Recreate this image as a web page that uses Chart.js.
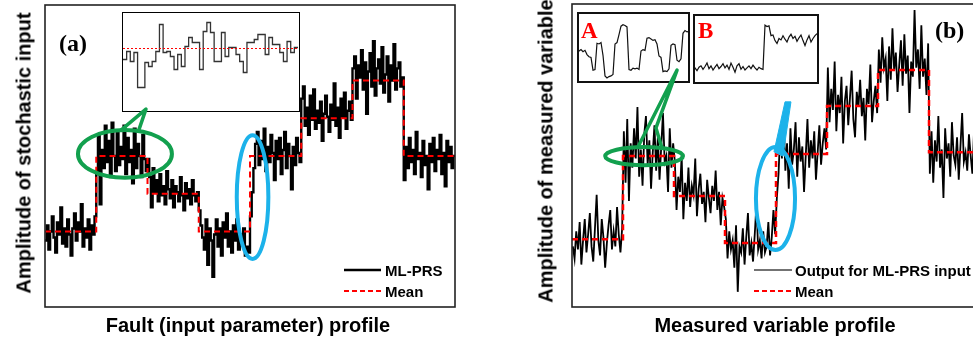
<!DOCTYPE html>
<html><head><meta charset="utf-8">
<script src="https://cdn.jsdelivr.net/npm/chart.js@4.4.0/dist/chart.umd.min.js"></script>
<style>
html,body{margin:0;padding:0;background:#fff;overflow:hidden;width:973px;height:341px;position:relative;}
canvas{position:absolute;display:block;}
.title{position:absolute;font-family:"Liberation Sans",Arial,sans-serif;font-weight:bold;font-size:20px;color:#000;white-space:nowrap;z-index:5;}
.inset{position:absolute;background:#fff;box-sizing:border-box;z-index:2;}
.inset canvas{position:absolute;left:0;top:0;}
.lbl{position:absolute;font-family:"Liberation Serif","Times New Roman",serif;font-weight:bold;z-index:5;white-space:nowrap;line-height:1;}
.leg{position:absolute;font-family:"Liberation Sans",Arial,sans-serif;font-weight:bold;font-size:15px;color:#000;white-space:nowrap;z-index:5;line-height:1;}
.legsvg{position:absolute;z-index:5;}
.ov{z-index:3;pointer-events:none;}
</style></head><body>

<canvas id="cA" width="480" height="341" style="left:0;top:0;z-index:1"></canvas>
<canvas id="cB" width="510" height="341" style="left:490px;top:0;z-index:1"></canvas>

<div class="inset" style="left:122px;top:12px;width:178px;height:100px;border:1.5px solid #000;"><canvas id="iA" width="175" height="97"></canvas></div>
<div class="inset" style="left:577px;top:12px;width:113px;height:71px;border:2px solid #111;"><canvas id="iBA" width="109" height="67"></canvas></div>
<div class="inset" style="left:693px;top:14px;width:126px;height:70px;border:2px solid #111;"><canvas id="iBB" width="122" height="66"></canvas></div>

<canvas id="oA" class="ov" width="480" height="341" style="left:0;top:0;"></canvas>
<canvas id="oB" class="ov" width="510" height="341" style="left:490px;top:0;"></canvas>

<div class="title" style="left:24px;top:153px;transform:translate(-50%,-50%) rotate(-90deg);">Amplitude of stochastic input</div>
<div class="title" style="left:248px;top:325px;transform:translate(-50%,-50%);">Fault (input parameter) profile</div>
<div class="title" style="left:546px;top:151px;transform:translate(-50%,-50%) rotate(-90deg);">Amplitude of measured variable</div>
<div class="title" style="left:775px;top:325px;transform:translate(-50%,-50%);">Measured variable profile</div>

<div class="lbl" style="left:59px;top:31px;font-size:24px;">(a)</div>
<div class="lbl" style="left:935px;top:18px;font-size:24px;">(b)</div>
<div class="lbl" style="left:581px;top:19px;font-size:23px;color:#f00;">A</div>
<div class="lbl" style="left:698px;top:19px;font-size:23px;color:#f00;">B</div>

<svg class="legsvg" style="left:344px;top:266px" width="37" height="8"><line x1="0" y1="4" x2="37" y2="4" stroke="#000" stroke-width="2.5"/></svg>
<svg class="legsvg" style="left:344px;top:287px" width="37" height="8"><line x1="0" y1="4" x2="37" y2="4" stroke="#f00" stroke-width="2" stroke-dasharray="5,3"/></svg>
<div class="leg" style="left:385px;top:263px;">ML-PRS</div>
<div class="leg" style="left:385px;top:284px;">Mean</div>

<svg class="legsvg" style="left:754px;top:266px" width="40" height="8"><line x1="0" y1="4" x2="38" y2="4" stroke="#444" stroke-width="1.5"/></svg>
<svg class="legsvg" style="left:754px;top:287px" width="37" height="8"><line x1="0" y1="4" x2="37" y2="4" stroke="#f00" stroke-width="2" stroke-dasharray="5,3"/></svg>
<div class="leg" style="left:795px;top:263px;">Output for ML-PRS input</div>
<div class="leg" style="left:795px;top:284px;">Mean</div>

<script>
// ---------------- DATA ----------------
// Panel (a): stochastic input (ML-PRS), 8 segments x 30 samples
const signalA = [
 2.2,2.7,1.9,2.5,3.0,2.3,1.8,2.8,2.4,3.3,2.1,2.6,2.0,2.9,2.4,1.7,2.6,3.1,2.2,2.8,2.5,3.4,2.0,2.6,2.3,2.9,1.9,2.7,2.4,3.0,
 4.4,5.7,3.4,5.2,4.6,6.0,4.8,5.5,4.3,6.1,5.0,4.5,5.8,4.7,5.3,4.9,6.0,4.4,5.6,4.8,5.2,4.1,5.9,4.6,5.4,5.0,4.3,5.7,4.9,4.5,
 4.9,4.3,3.3,4.6,3.8,4.2,3.5,4.4,3.7,4.0,3.4,4.5,3.9,3.6,4.2,3.3,4.0,3.8,3.5,4.3,3.7,3.2,4.1,3.6,3.9,3.4,4.2,3.7,3.5,3.8,
 3.2,2.7,2.3,1.9,2.9,1.4,2.6,2.2,1.0,2.4,2.9,2.0,2.6,1.7,2.8,2.3,3.1,2.0,2.5,1.8,2.7,2.2,2.9,1.9,2.4,2.1,2.6,1.7,2.0,1.8,
 3.0,3.8,4.6,5.4,5.8,4.7,5.5,4.9,5.9,4.5,5.3,4.8,5.7,5.1,4.2,5.5,4.9,5.6,4.4,5.2,5.8,4.6,5.4,5.0,3.9,5.3,4.7,5.6,5.1,4.8,
 6.9,7.3,6.0,6.6,5.7,7.0,6.2,7.2,5.9,6.5,6.1,6.8,5.5,6.4,7.0,6.3,5.8,6.7,6.2,7.4,6.0,6.6,5.6,6.9,6.3,7.1,5.9,6.5,6.8,6.2,
 7.9,8.3,6.9,8.0,7.6,8.5,7.2,8.1,6.4,7.8,8.4,7.3,8.8,7.0,7.9,8.2,7.4,8.6,7.1,7.7,8.3,6.8,8.0,7.5,8.7,7.2,7.9,8.1,7.3,7.6,
 4.2,5.3,4.6,5.6,4.8,5.2,4.4,5.8,4.9,5.1,4.3,5.5,4.7,5.0,3.9,5.4,4.8,5.6,4.5,5.2,4.9,5.7,4.4,5.1,4.0,5.5,4.8,5.3,4.6,5.0
];
const meanLevelsA = [2.5,5.0,3.75,2.5,5.0,6.25,7.5,5.0];
const segLenA = 30;

// Panel (a) inset: zoomed ML-PRS segment and its mean
const insetA = [5.2,6.0,5.0,5.9,2.4,2.4,4.9,4.5,5.0,6.0,8.7,5.9,6.0,5.5,4.2,5.7,4.5,6.5,7.4,6.9,6.9,4.2,8.0,8.9,7.9,5.0,5.0,7.9,5.5,6.4,6.4,5.7,5.0,3.9,6.9,6.9,7.2,7.7,7.7,5.7,7.4,6.7,6.7,5.9,5.0,7.0,5.9,6.4];
const insetAMean = 6.3;

// Panel (b): measured output, 8 segments x 30 samples
const signalB = [
 2.0,1.6,2.5,1.9,2.8,1.4,2.2,2.9,1.8,2.4,3.1,2.0,1.5,2.6,3.7,2.2,1.7,2.9,2.3,1.3,2.1,2.7,3.2,1.9,2.5,2.0,3.3,2.4,1.8,2.6,
 5.8,4.1,6.2,3.5,5.4,4.6,5.9,4.9,6.6,4.3,5.2,4.0,5.7,6.3,4.7,5.5,3.9,5.1,6.0,4.5,5.6,4.2,5.3,6.4,4.8,5.0,3.8,5.9,4.6,5.4,
 4.8,3.2,4.3,3.8,5.0,2.9,4.1,3.5,4.6,3.3,4.0,3.7,4.9,3.0,3.9,4.4,3.4,3.8,2.8,4.2,3.6,3.1,4.0,3.5,4.5,3.2,3.8,2.7,3.6,3.3,
 2.9,1.6,2.5,1.9,2.2,1.3,2.7,0.5,2.0,1.8,2.6,1.4,2.3,3.1,1.7,2.1,1.5,2.4,3.4,1.9,2.2,1.6,2.5,1.8,2.0,2.8,1.7,2.3,3.2,2.4,
 3.6,4.4,5.8,4.9,6.3,4.5,5.4,3.9,5.9,4.7,5.2,6.1,4.3,5.6,4.8,5.3,3.8,5.0,6.2,4.6,5.5,4.9,5.8,4.2,5.1,6.0,4.7,5.4,5.9,5.2,
 7.9,6.1,7.2,6.5,8.1,5.8,7.0,6.4,7.6,5.4,6.8,7.3,6.0,6.9,7.8,6.2,5.6,7.1,6.6,7.5,6.3,6.9,5.5,7.2,6.7,8.0,6.1,6.8,7.3,6.4,
 8.5,7.4,8.9,7.9,8.2,6.8,8.6,7.5,9.2,7.8,8.4,7.1,8.0,8.8,7.3,9.0,7.7,8.3,6.4,8.1,7.6,9.8,7.9,8.5,7.2,9.3,7.6,8.2,7.0,8.7,
 4.4,5.8,4.1,5.5,4.8,6.3,4.6,5.2,3.6,5.9,4.9,5.4,4.3,6.1,5.0,4.7,5.6,4.2,5.3,6.4,4.8,5.1,4.5,5.7,5.0,4.4,5.8,4.9,5.3,4.6
];
const meanLevelsB = [2.24,4.98,3.66,2.11,5.05,6.63,7.82,5.11];
const segLenB = 30;

// Panel (b) inset A (sample every 2 px) and inset B
const insetBA = [4.6,4.5,4.7,4.4,4.6,4.0,3.7,3.6,1.8,1.9,5.6,5.5,5.7,3.9,1.0,0.7,0.9,1.0,1.2,5.5,5.7,6.8,8.0,8.2,8.1,7.9,1.9,1.8,2.1,2.0,2.1,1.9,4.5,4.7,4.6,6.3,6.4,6.2,6.0,6.1,5.5,3.8,3.6,1.6,1.7,1.6,2.0,5.3,5.5,5.4,3.2,3.0,3.4,7.0,7.4,7.2,7.3];
const insetBB = [2.0,2.3,1.9,2.4,2.6,2.1,2.5,3.0,2.2,2.6,2.0,2.4,2.8,2.2,2.5,2.9,2.3,2.7,2.1,3.0,2.4,1.7,2.6,2.9,2.1,2.5,2.0,2.3,2.6,2.2,2.7,2.3,2.0,2.4,2.2,2.1,
 8.4,8.2,8.3,6.9,7.0,6.2,5.8,6.5,6.3,6.9,6.4,6.0,6.7,7.1,6.5,6.8,6.1,6.6,7.0,6.2,5.5,6.3,6.9,6.0,6.5,6.9,7.2,6.8];

// Annotations (data units of each panel)
const GREEN = 'rgb(18,160,78)', BLUE = 'rgb(28,178,234)';
const annoA = [
 {type:'ellipse', cx:46.8, cy:5.07, rx:27.5, ry:0.79, color:GREEN, width:4},
 {type:'path', pts:[[44.0,5.83],[59.1,6.55],[54.5,5.79]], color:GREEN, width:3.5},
 {type:'ellipse', cx:121.5, cy:3.64, rx:9.25, ry:2.05, color:BLUE, width:4}
];
const annoB = [
 {type:'ellipse', cx:42.4, cy:4.98, rx:22.9, ry:0.30, color:GREEN, width:4},
 {type:'path', pts:[[38.8,5.28],[61.8,7.82],[49.4,5.91],[52.9,5.25]], color:GREEN, width:3.5},
 {type:'ellipse', cx:119.7, cy:3.58, rx:11.5, ry:1.70, color:BLUE, width:4},
 {type:'path', fill:true, pts:[[118.8,5.12],[125.3,6.77],[128.8,6.77],[124.1,4.98]], color:BLUE, width:1}
];

// ---------------- HELPERS ----------------
function stepPts(vals, dx){ const p = vals.map((v,i)=>({x:i*dx, y:v})); p.push({x:vals.length*dx, y:vals[vals.length-1]}); return p; }
function meanPts(levels, seg){ const p = levels.map((v,i)=>({x:i*seg, y:v})); p.push({x:levels.length*seg, y:levels[levels.length-1]}); return p; }
const boxPlugin = {id:'box', afterDatasetsDraw(chart){ const c=chart.ctx, a=chart.chartArea; c.save(); c.strokeStyle='#222'; c.lineWidth=1.6; c.strokeRect(a.left, a.top, a.right-a.left, a.bottom-a.top); c.restore(); }};
function makeAnno(id, items){ return {id:'anno_'+id, afterDraw(chart){
  const cv=document.getElementById(id), ctx=cv.getContext('2d'); ctx.clearRect(0,0,cv.width,cv.height);
  const X=v=>chart.scales.x.getPixelForValue(v), Y=v=>chart.scales.y.getPixelForValue(v);
  items.forEach(it=>{ ctx.save(); ctx.strokeStyle=it.color; ctx.fillStyle=it.color; ctx.lineWidth=it.width; ctx.lineJoin='round';
   if(it.type==='ellipse'){ const cx=X(it.cx), cy=Y(it.cy), rx=Math.abs(X(it.cx+it.rx)-cx), ry=Math.abs(Y(it.cy+it.ry)-cy); ctx.beginPath(); ctx.ellipse(cx,cy,rx,ry,0,0,Math.PI*2); ctx.stroke(); }
   else { ctx.beginPath(); it.pts.forEach((p,i)=>{ const px=X(p[0]), py=Y(p[1]); if(i) ctx.lineTo(px,py); else ctx.moveTo(px,py); }); if(it.fill){ ctx.closePath(); ctx.fill(); ctx.stroke(); } else ctx.stroke(); }
   ctx.restore(); });
 }}; }
const baseOpts = (pad, xmin, xmax, ymin, ymax) => ({responsive:false, animation:false, devicePixelRatio:1,
  layout:{padding:pad}, scales:{x:{type:'linear',display:false,min:xmin,max:xmax}, y:{type:'linear',display:false,min:ymin,max:ymax}},
  plugins:{legend:{display:false}, tooltip:{enabled:false}}, elements:{point:{radius:0}}});

// ---------------- CHARTS ----------------
new Chart(document.getElementById('cA'), {type:'line',
 data:{datasets:[
  {label:'ML-PRS', data:stepPts(signalA,1), borderColor:'#000', borderWidth:2.4, stepped:true, pointRadius:0, order:2},
  {label:'Mean', data:meanPts(meanLevelsA,segLenA), borderColor:'#f00', borderWidth:2, borderDash:[6,4], stepped:true, pointRadius:0, order:1}
 ]},
 options:baseOpts({left:45,top:5,right:25,bottom:34}, 0, signalA.length, 0, 10),
 plugins:[boxPlugin, makeAnno('oA', annoA)]});

new Chart(document.getElementById('cB'), {type:'line',
 data:{datasets:[
  {label:'Output for ML-PRS input', data:signalB.map((v,i)=>({x:i+0.5,y:v})), borderColor:'#000', borderWidth:1.8, pointRadius:0, order:2},
  {label:'Mean', data:meanPts(meanLevelsB,segLenB), borderColor:'#f00', borderWidth:2.5, borderDash:[6,4], stepped:true, pointRadius:0, order:1}
 ]},
 options:baseOpts({left:82,top:4,right:20,bottom:34}, 0, signalB.length, 0, 10),
 plugins:[boxPlugin, makeAnno('oB', annoB)]});

new Chart(document.getElementById('iA'), {type:'line',
 data:{datasets:[
  {label:'ML-PRS', data:stepPts(insetA,1), borderColor:'#333', borderWidth:1.3, stepped:true, pointRadius:0, order:2},
  {label:'Mean', data:[{x:0,y:insetAMean},{x:insetA.length,y:insetAMean}], borderColor:'#f00', borderWidth:1, borderDash:[2,2], pointRadius:0, order:1}
 ]},
 options:baseOpts(0, 0, insetA.length, 0.15, 9.85)});

new Chart(document.getElementById('iBA'), {type:'line',
 data:{datasets:[{label:'A', data:insetBA.map((v,i)=>({x:i*2,y:v})), borderColor:'#111', borderWidth:1.2, pointRadius:0}]},
 options:baseOpts(0, 2, 111, 0.28, 9.72)});

new Chart(document.getElementById('iBB'), {type:'line',
 data:{datasets:[{label:'B', data:insetBB.map((v,i)=>({x:i*2,y:v})), borderColor:'#111', borderWidth:1.2, pointRadius:0}]},
 options:baseOpts(0, 2, 124, 0.29, 9.71)});
</script>
</body></html>
